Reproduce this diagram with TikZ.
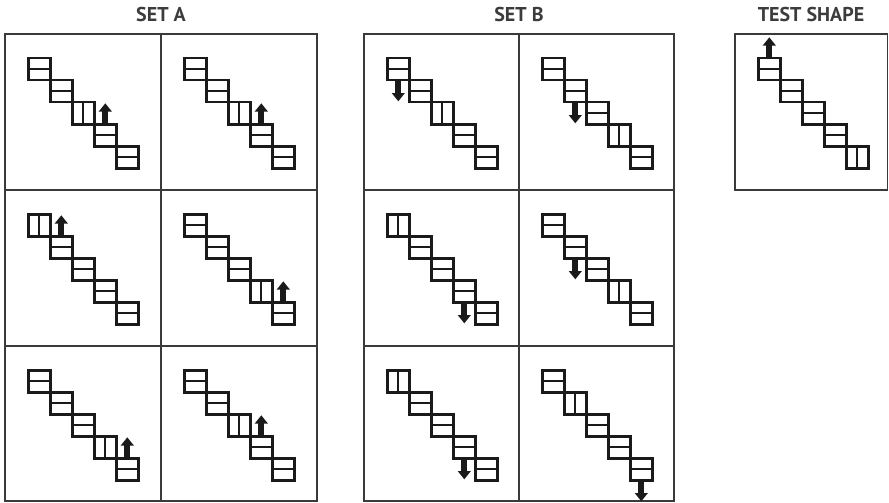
\documentclass[tikz,border=0pt]{standalone}
\usepackage{fontspec}
\setmainfont{PT Sans}
\usetikzlibrary{positioning, calc, arrows.meta}
\definecolor{InkBlack}{HTML}{1A1A1A}
\definecolor{FrameGray}{HTML}{3A3A3A}
\definecolor{TitleGray}{HTML}{3C3C3C}

% one staircase: name, cell corner x, y, split block, arrow block, anchor, arrow length
\newcommand{\stair}[7]{%
  \foreach \k [remember=\k as \j (initially 0)] in {1,...,5} {
    \ifnum\k=#4 \def\blkkind{vblk}\else\def\blkkind{hblk}\fi
    \ifnum\k=1
      \node[\blkkind] (#1-\k) at ($(#2,#3)+(23.3,24.3)$) {};
    \else
      \node[\blkkind] (#1-\k) at (#1-\j.south east) {};
    \fi
  }
  \coordinate (#1-tip) at ($(#1-#5.#6)+(0,#7)$);
  \draw[stairarrow] (#1-#5.#6) -- (#1-tip);
}

\begin{document}
\begin{tikzpicture}[
    x=0.75pt, y=-0.75pt,
    blk/.style={draw=InkBlack, fill=white, line width=1.8pt, minimum size=16.5pt, inner sep=0pt, outer sep=0pt, anchor=north west},
    hblk/.style={blk, path picture={\draw[InkBlack, line width=1.7pt] (path picture bounding box.west) -- (path picture bounding box.east);}},
    vblk/.style={blk, path picture={\draw[InkBlack, line width=1.7pt] (path picture bounding box.north) -- (path picture bounding box.south);}},
    stairarrow/.style={draw=InkBlack, line width=4.4pt, -{Triangle[width=9.5pt, length=6.2pt]}},
    frame/.style={draw=FrameGray, line width=1.1pt},
    title/.style={font=\bfseries\fontsize{15}{17}\selectfont, text=TitleGray, anchor=base, inner sep=0pt}
]
    \useasboundingbox (0,0) rectangle (889,503);

    % titles
    \node[title] (setA) at (161,21.5) {SET A};
    \node[title] (setB) at (519,21.5) {SET B};
    \node[title] (test) at (811,21.5) {TEST SHAPE};

    % frames
    \draw[frame] (5,34) rectangle (317,501);
    \draw[frame] (161,34) -- (161,501);
    \draw[frame] (5,190) -- (317,190);
    \draw[frame] (5,346) -- (317,346);
    \draw[frame] (364,34) rectangle (674,501);
    \draw[frame] (519,34) -- (519,501);
    \draw[frame] (364,190) -- (674,190);
    \draw[frame] (364,346) -- (674,346);
    \draw[frame] (735,34) rectangle (887.5,190);

    % staircases
    \foreach \nm/\cx/\cy/\vk/\ak/\an/\ad in {
        a11/5/34/3/4/north/-21, a12/161/34/3/4/north/-21,
        a21/5/190/1/2/north/-21, a22/161/190/4/5/north/-21,
        a31/5/346/4/5/north/-21, a32/161/346/3/4/north/-21,
        b11/364/34/3/1/south/21, b12/519/34/4/2/south/21,
        b21/364/190/1/4/south/21, b22/519/190/4/2/south/21,
        b31/364/346/1/4/south/21, b32/519/346/2/5/south/21,
        t/735/34/5/1/north/-21}
      {\stair{\nm}{\cx}{\cy}{\vk}{\ak}{\an}{\ad}}
\end{tikzpicture}
\end{document}
